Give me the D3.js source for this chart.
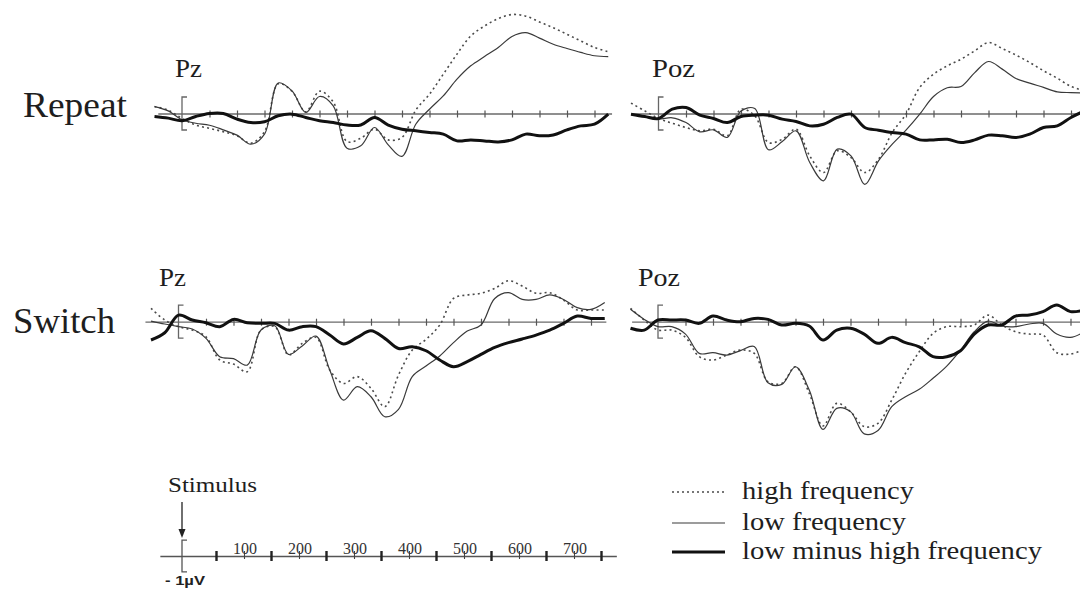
<!DOCTYPE html>
<html>
<head>
<meta charset="utf-8">
<script src="https://cdn.jsdelivr.net/npm/d3@7"></script>
<style>
  html, body { margin: 0; padding: 0; background: #fff; }
  svg { display: block; font-family: "Liberation Serif", "Times New Roman", serif; }
</style>
</head>
<body>
<svg id="chart" width="1080" height="597"></svg>
<script>
// time points (ms after stimulus)
var times = [-50, -25, 0, 25, 50, 75, 100, 125, 150, 175, 200, 225, 250, 275, 300, 325, 350,
             375, 400, 425, 450, 475, 500, 525, 550, 575, 600, 625, 650, 675, 700, 725, 750, 775];

// Repeat - Pz (µV)
var repeatPzHigh = [0.42, 0.2, -0.3, -0.7, -0.9, -1.1, -1.35, -1.8, -1.1, 1.8, 1.35, 0.1, 1.35, 0.7, -1.7, -1.5, -0.95,
                    -1.6, -1.45, 0.2, 1.17, 2.38, 3.6, 4.7, 5.3, 5.75, 6.0, 5.9, 5.55, 5.2, 4.8, 4.4, 4.0, 3.74];
var repeatPzLow  = [0.42, 0.16, -0.38, -0.59, -0.71, -0.99, -1.31, -1.86, -1.25, 1.85, 1.37, 0.06, 1.03, 0.46, -2.1, -1.96, -0.85,
                    -1.9, -2.6, -0.65, 0.26, 1.07, 2.08, 2.89, 3.45, 4.0, 4.67, 4.9, 4.57, 4.2, 3.94, 3.7, 3.5, 3.45];
var repeatPzDiff = [-0.18, -0.28, -0.44, -0.18, 0, 0, -0.34, -0.55, -0.5, -0.14, -0.04, -0.24, -0.44, -0.55, -0.7, -0.7, -0.24,
                    -0.7, -0.95, -1.05, -1.15, -1.25, -1.66, -1.6, -1.66, -1.72, -1.6, -1.25, -1.35, -1.3, -0.99, -0.75, -0.65, -0.04];

// Repeat - Poz
var repeatPozHigh = [0.63, 0.16, -0.3, -0.59, -0.85, -1.05, -0.95, -1.35, 0.26, -0.14, -1.76, -1.56, -0.95, -2.57, -3.58, -2.26, -2.67,
                     -3.58, -2.77, -1.15, -0.04, 1.58, 2.38, 2.89, 3.29, 3.8, 4.3, 3.94, 3.54, 3.09, 2.59, 2.14, 1.64, 1.37];
var repeatPozLow  = [-0.04, -0.18, -0.34, -0.26, -0.55, -1.11, -0.99, -1.45, 0.15, 0.3, -2.2, -1.7, -1.05, -2.97, -4.08, -2.16, -2.57,
                     -4.3, -2.87, -1.86, -1.01, -0.04, 1.03, 1.56, 1.64, 2.48, 3.15, 2.69, 2.12, 1.84, 1.58, 1.31, 1.27, 1.25];
var repeatPozDiff = [-0.04, -0.18, -0.3, 0.26, 0.36, -0.1, -0.3, -0.55, -0.18, -0.1, -0.1, -0.34, -0.48, -0.75, -0.65, -0.24, -0.04,
                     -0.85, -1.01, -1.15, -1.25, -1.6, -1.6, -1.56, -1.76, -1.6, -1.31, -1.35, -1.45, -1.25, -0.85, -0.75, -0.24, 0.16];

// Switch - Pz
var switchPzHigh = [0.81, 0.1, -0.3, -0.51, -0.91, -2.32, -2.57, -3.03, -0.5, -0.3, -2.02, -1.31, -0.95, -2.93, -3.74, -3.33, -4.04,
                    -5.15, -3.23, -1.72, -1.07, -0.2, 1.41, 1.62, 1.72, 2.02, 2.48, 2.16, 1.72, 1.76, 1.31, 0.71, 0.71, 0.71];
var switchPzLow  = [0.04, -0.14, -0.3, -0.44, -1.01, -2.12, -2.24, -2.63, -0.5, -0.25, -1.98, -1.47, -0.87, -2.93, -4.75, -3.94, -4.55,
                    -5.76, -5.31, -3.33, -2.69, -2.08, -1.27, -0.57, -0.2, 1.41, 1.76, 1.35, 1.35, 1.62, 1.35, 0.85, 0.75, 1.17];
var switchPzDiff = [-1.11, -0.67, 0.4, 0.1, -0.06, -0.3, 0.14, -0.06, -0.1, -0.1, -0.51, -0.3, -0.3, -0.81, -1.35, -0.95, -0.55,
                    -1.01, -1.62, -1.52, -1.76, -2.32, -2.73, -2.42, -1.98, -1.56, -1.27, -1.05, -0.81, -0.51, -0.1, 0.34, 0.2, 0.2];

// Switch - Poz
var switchPozHigh = [0.81, 0.1, -0.51, -0.51, -0.95, -2.12, -2.32, -2.02, -1.72, -1.92, -3.64, -3.74, -2.73, -4.34, -6.32, -4.95, -5.45,
                     -6.36, -6.16, -4.75, -3.13, -1.82, -0.71, -0.3, -0.3, -0.2, 0.4, -0.2, -0.61, -0.75, -0.81, -1.88, -1.96, -1.68];
var switchPozLow  = [0.75, 0.14, -0.3, -0.3, -0.75, -1.92, -1.88, -2.02, -1.75, -1.5, -3.7, -3.8, -2.73, -4.14, -6.53, -5.25, -5.45,
                     -6.8, -6.6, -5.15, -4.55, -4.1, -3.43, -2.69, -1.72, -0.61, 0.04, -0.26, -0.3, -0.14, -0.1, -0.75, -0.95, -0.61];
var switchPozDiff = [-0.4, -0.51, 0.1, 0.1, 0.1, -0.1, 0.34, 0.1, 0, 0.2, 0.14, -0.2, -0.1, -0.26, -1.11, -0.51, -0.4,
                     -0.75, -1.31, -0.95, -1.27, -1.52, -2.12, -2.12, -1.76, -0.75, -0.2, -0.2, 0.34, 0.4, 0.61, 1.01, 0.61, 0.71];

// tick marks (every 50 ms) and scale bar labels
var panelTicks = [50, 100, 150, 200, 250, 300, 350, 400, 450, 500, 550, 600, 650, 700, 750];
var barLabels = [100, 200, 300, 400, 500, 600, 700];
var barMidTicks = [50, 150, 250, 350, 450, 550, 650, 750];

var rowNames = ["Repeat", "Switch"];
var seriesNames = ["high frequency", "low frequency", "low minus high frequency"];

// ---- layout ----
var pxPerMs = 0.55;
var pxPerUv = 16.5;

var styles = [
  { stroke: "#4a4a4a", width: 1.6, dash: "2,3.2" },   // high
  { stroke: "#3a3a3a", width: 1.2, dash: null },      // low
  { stroke: "#111",    width: 3,   dash: null }       // diff
];

var panels = [
  { label: "Pz",  x0: 182,   y0: 113.5, t0: -44, t1: 781, lx: 175, ly: 77,  lw: 27, series: [repeatPzHigh, repeatPzLow, repeatPzDiff] },
  { label: "Poz", x0: 658.5, y0: 113.5, t0: -48, t1: 775, lx: 652, ly: 77,  lw: 43, series: [repeatPozHigh, repeatPozLow, repeatPozDiff] },
  { label: "Pz",  x0: 178.5, y0: 321.7, t0: -61, t1: 777, lx: 159, ly: 286, lw: 27, series: [switchPzHigh, switchPzLow, switchPzDiff] },
  { label: "Poz", x0: 658,   y0: 321.7, t0: -48, t1: 775, lx: 638, ly: 286, lw: 42, series: [switchPozHigh, switchPozLow, switchPozDiff] }
];

var svg = d3.select("#chart");
var textColor = "#1e1e1e";

// row labels
svg.append("text").attr("x", 23).attr("y", 117)
   .attr("font-size", 36).attr("fill", textColor)
   .attr("textLength", 104).attr("lengthAdjust", "spacingAndGlyphs")
   .text(rowNames[0]);
svg.append("text").attr("x", 13).attr("y", 333)
   .attr("font-size", 36).attr("fill", textColor)
   .attr("textLength", 102).attr("lengthAdjust", "spacingAndGlyphs")
   .text(rowNames[1]);

// draw each panel
panels.forEach(function(p) {
  var x = d3.scaleLinear()
            .domain([p.t0, p.t1])
            .range([p.x0 + p.t0 * pxPerMs, p.x0 + p.t1 * pxPerMs]);
  var y = d3.scaleLinear()
            .domain([-1, 1])
            .range([p.y0 + pxPerUv, p.y0 - pxPerUv]);

  var g = svg.append("g");

  // baseline axis with ticks
  var ax = g.append("g")
      .attr("transform", "translate(0," + p.y0 + ")")
      .call(d3.axisBottom(x).tickValues(panelTicks).tickFormat("").tickSizeInner(4).tickSizeOuter(0));
  ax.select(".domain").attr("stroke", "#6a6a6a").attr("stroke-width", 1.3);
  ax.selectAll(".tick line").attr("y1", -3).attr("stroke", "#555").attr("stroke-width", 1.2);

  // stimulus bracket (±1 µV)
  var bx = x(0);
  g.append("path")
   .attr("d", "M" + (bx + 5) + "," + y(1) + "H" + bx + "V" + y(-1) + "H" + (bx + 5))
   .attr("fill", "none").attr("stroke", "#666").attr("stroke-width", 1.3);

  // waveforms
  var line = d3.line()
               .x(function(d, i) { return x(times[i]); })
               .y(function(d) { return y(d); })
               .curve(d3.curveCatmullRom.alpha(0.5));

  p.series.forEach(function(vals, k) {
    var s = styles[k];
    g.append("path")
     .datum(vals)
     .attr("fill", "none")
     .attr("stroke", s.stroke)
     .attr("stroke-width", s.width)
     .attr("stroke-dasharray", s.dash)
     .attr("stroke-linejoin", "round")
     .attr("d", line);
  });

  // electrode label
  g.append("text").attr("x", p.lx).attr("y", p.ly)
   .attr("font-size", 25).attr("fill", textColor)
   .attr("textLength", p.lw).attr("lengthAdjust", "spacingAndGlyphs")
   .text(p.label);
});

// ---- scale bar (bottom left) ----
var barY = 556;
var bxScale = d3.scaleLinear().domain([-53, 777]).range([189 - 53 * pxPerMs, 189 + 777 * pxPerMs]);
var byScale = d3.scaleLinear().domain([-1, 1]).range([barY + 15.8, barY - 15.8]);
var bar = svg.append("g");

var barAxis = bar.append("g")
    .attr("transform", "translate(0," + barY + ")")
    .call(d3.axisBottom(bxScale).tickValues(barLabels).tickFormat("").tickSizeInner(3).tickSizeOuter(0));
barAxis.select(".domain").attr("stroke", "#555").attr("stroke-width", 1.4);
barAxis.selectAll(".tick line").attr("y1", -5).attr("stroke", "#444").attr("stroke-width", 1.1);

// thicker marks between labels
bar.selectAll(".midtick")
   .data(barMidTicks)
   .enter()
   .append("line")
   .attr("x1", function(d) { return bxScale(d); })
   .attr("x2", function(d) { return bxScale(d); })
   .attr("y1", barY - 5).attr("y2", barY + 5)
   .attr("stroke", "#222").attr("stroke-width", 2.4);

bar.selectAll(".barlabel")
   .data(barLabels)
   .enter()
   .append("text")
   .attr("x", function(d) { return bxScale(d) + 1; })
   .attr("y", barY - 2)
   .attr("text-anchor", "middle")
   .attr("font-size", 16)
   .attr("fill", "#333")
   .text(function(d) { return d; });

var stimX = bxScale(0) - 7;
bar.append("path")
   .attr("d", "M" + (stimX + 5) + "," + byScale(1) + "H" + stimX + "V" + byScale(-1) + "H" + (stimX + 5))
   .attr("fill", "none").attr("stroke", "#555").attr("stroke-width", 1.3);

// stimulus arrow
bar.append("line")
   .attr("x1", stimX).attr("x2", stimX).attr("y1", 502).attr("y2", 531)
   .attr("stroke", "#222").attr("stroke-width", 1.3);
bar.append("path")
   .attr("d", "M" + (stimX - 3.5) + ",529 L" + (stimX + 3.5) + ",529 L" + stimX + ",538 Z")
   .attr("fill", "#222");

bar.append("text").attr("x", 168).attr("y", 492)
   .attr("font-size", 22).attr("fill", textColor)
   .attr("textLength", 89).attr("lengthAdjust", "spacingAndGlyphs")
   .text("Stimulus");

bar.append("text").attr("x", 165).attr("y", 585)
   .attr("font-family", "'Liberation Sans', Arial, sans-serif")
   .attr("font-weight", "bold").attr("font-size", 13).attr("fill", "#222")
   .attr("textLength", 40).attr("lengthAdjust", "spacingAndGlyphs")
   .text("- 1µV");

// ---- legend ----
var legendY = [492, 523, 552];
var legendTextY = [499, 530, 559];
var legendW = [172, 164, 300];
var legend = svg.append("g")
                .selectAll("g")
                .data(seriesNames)
                .enter()
                .append("g");

legend.append("line")
      .attr("x1", 672).attr("x2", 725)
      .attr("y1", function(d, i) { return legendY[i]; })
      .attr("y2", function(d, i) { return legendY[i]; })
      .attr("stroke", function(d, i) { return styles[i].stroke; })
      .attr("stroke-width", function(d, i) { return i == 0 ? 1.4 : styles[i].width; })
      .attr("stroke-dasharray", function(d, i) { return i == 0 ? "2,3" : null; });

legend.append("text")
      .attr("x", 742)
      .attr("y", function(d, i) { return legendTextY[i]; })
      .attr("font-size", 25)
      .attr("fill", textColor)
      .attr("textLength", function(d, i) { return legendW[i]; })
      .attr("lengthAdjust", "spacingAndGlyphs")
      .text(function(d) { return d; });
</script>
</body>
</html>
